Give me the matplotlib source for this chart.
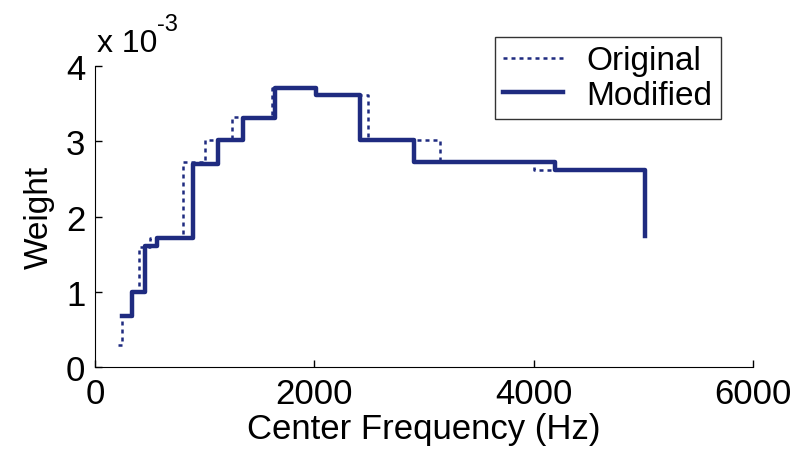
import numpy as np
import matplotlib
matplotlib.use('Agg')
import matplotlib.pyplot as plt

plt.rcParams['font.family'] = ['Liberation Sans', 'DejaVu Sans']

# stairs data, weights in units of 1e-3
freq_orig = [212, 243, 335, 404, 502, 805, 1003, 1252, 1611, 2012, 2492, 3146, 4003, 5015]
weight_orig = [0.29, 0.68, 1.0, 1.6, 1.71, 2.72, 3.02, 3.32, 3.71, 3.62, 3.02, 2.73, 2.62, 1.72]

freq_mod = [243, 335, 456, 562, 896, 1125, 1352, 1641, 2012, 2416, 2909, 4194, 5015]
weight_mod = [0.68, 1.0, 1.61, 1.71, 2.70, 3.01, 3.31, 3.71, 3.62, 3.02, 2.73, 2.62, 1.74]

xticks = [0, 2000, 4000, 6000]
yticks = [0, 1, 2, 3, 4]

navy = '#1f2b80'

fig = plt.figure(figsize=(7.96, 4.64), dpi=100)
ax = fig.add_axes([95/796, 1 - 368/464, (753-95)/796, (368-67)/464])

ax.step(freq_orig, weight_orig, where='post', color=navy, lw=1.8,
        dashes=(1.6, 1.6), label='Original')
ax.step(freq_mod, weight_mod, where='post', color=navy, lw=3.2,
        label='Modified')

ax.set_xlim(0, 6000)
ax.set_ylim(0, 4)
ax.set_xticks(xticks)
ax.set_yticks(yticks)
ax.spines['top'].set_visible(False)
ax.spines['right'].set_visible(False)
ax.tick_params(direction='in', length=5, width=1, labelsize=25, pad=7)
ax.set_xlabel('Center Frequency (Hz)', fontsize=25, labelpad=2)
ax.set_ylabel('Weight', fontsize=24, labelpad=8)

# MATLAB style exponent label
fig.text(97/796, 1 - 52/464, 'x 10', fontsize=23, ha='left', va='baseline')
fig.text(157/796, 1 - 31/464, '-3', fontsize=17, ha='left', va='baseline')

leg = ax.legend(loc='upper right', bbox_to_anchor=(721/796, 1 - 38/464),
                bbox_transform=fig.transFigure,
                fontsize=24, frameon=True, fancybox=False, handlelength=1.8,
                borderpad=0.25, labelspacing=0.1, handletextpad=0.7,
                borderaxespad=0)
leg.get_frame().set_edgecolor('black')
leg.get_frame().set_linewidth(1.0)

plt.savefig('out.png', dpi=100)
